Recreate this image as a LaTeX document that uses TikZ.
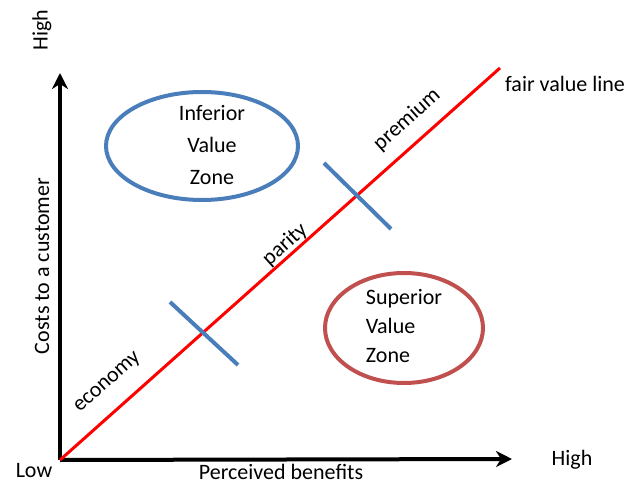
\documentclass[tikz,border=0pt]{standalone}
\usepackage{fontspec}
\setmainfont{Carlito}
\usetikzlibrary{arrows.meta}
\definecolor{zblue}{HTML}{4A7EBB}
\definecolor{zred}{HTML}{C0504D}
\tikzset{
  axis/.style={line width=4pt,-{Stealth[length=16pt,width=16pt,inset=5pt]}},
  tick/.style={zblue,line width=4pt},
  lbl/.style={font=\fontsize{22}{32}\selectfont,inner sep=0pt},
  zone/.style={line width=4pt},
}
\begin{document}
\begin{tikzpicture}[x=1pt,y=-1pt]
\useasboundingbox (0,0) rectangle (640,486);
\coordinate (O) at (60,460);
\coordinate (Ytip) at (60,73);
\coordinate (Xtip) at (512,459);
\coordinate (F) at (500,68);
\draw[axis] (O) -- (Ytip);
\draw[axis] (O) -- (Xtip);
\draw[red,line width=3pt] (O) -- (F);
\coordinate (t1a) at (170,302); \coordinate (t1b) at (238,365);
\coordinate (t2a) at (324,163); \coordinate (t2b) at (391,229);
\draw[tick] (t1a) -- (t1b);
\draw[tick] (t2a) -- (t2b);
\draw[zone,zblue] (202,146) ellipse [x radius=96, y radius=54];
\draw[zone,zred] (404,328) ellipse [x radius=79, y radius=55];
\node[lbl,align=center] (inf) at (212,145) {Inferior\\Value\\Zone};
\node[lbl,align=left,font=\fontsize{22}{29}\selectfont] (sup) at (404,326) {Superior\\Value\\Zone};
\node[lbl,rotate=90] (yhigh) at (42,30) {High};
\node[lbl,rotate=90] (ylab) at (42,266) {Costs to a customer};
\node[lbl] (low) at (34,471) {Low};
\node[lbl] (xlab) at (281,472) {Perceived benefits};
\node[lbl] (xhigh) at (572,460) {High};
\node[lbl,anchor=west] (fvl) at (505,84) {fair value line};
\node[lbl,rotate=41.7] (eco) at (108,383) {economy};
\node[lbl,rotate=41.7] (par) at (285,245) {parity};
\node[lbl,rotate=41.7] (pre) at (407,120) {premium};
\end{tikzpicture}
\end{document}
